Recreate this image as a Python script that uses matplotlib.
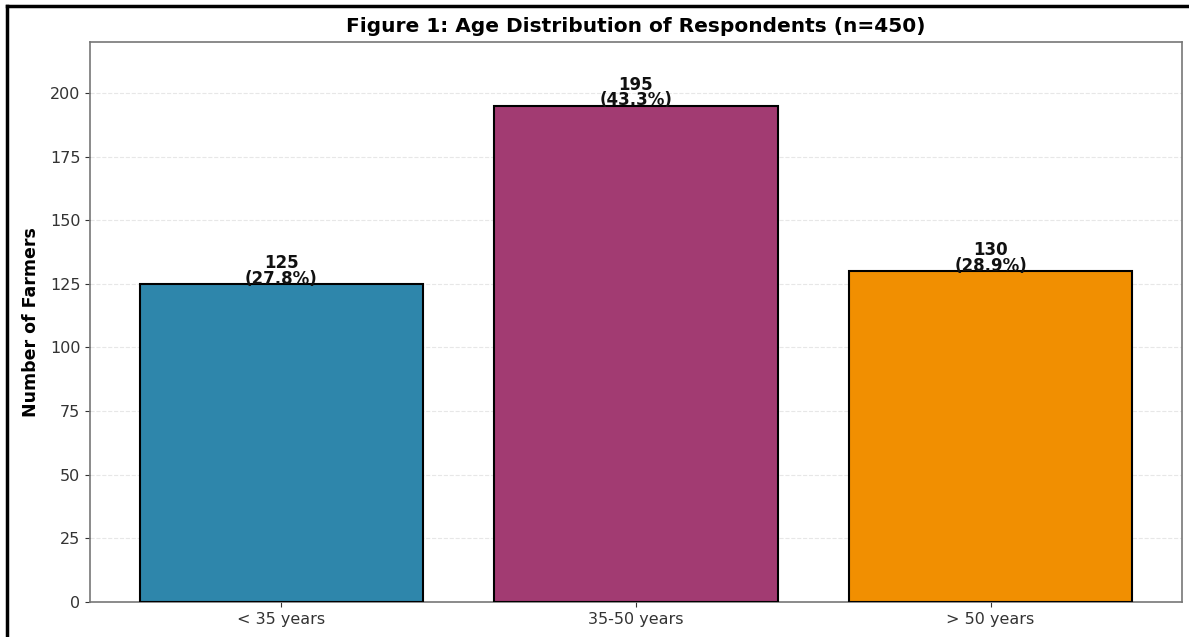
import matplotlib.pyplot as plt
from matplotlib.lines import Line2D

# Age groups and counts of respondents
age_groups = ["< 35 years", "35-50 years", "> 50 years"]
farmers = [125, 195, 130]
total = 450
bar_colors = ["#2E86AB", "#A23B72", "#F18F01"]

fig = plt.figure(figsize=(11.89, 6.37), dpi=100)
ax = fig.add_axes([90 / 1189, 35 / 637, 1092 / 1189, 560 / 637])

bars = ax.bar(age_groups, farmers, color=bar_colors, edgecolor="black",
              linewidth=1.5, width=0.8, zorder=3)

# Count and share above each bar
for bar, n in zip(bars, farmers):
    ax.text(bar.get_x() + bar.get_width() / 2, bar.get_height() - 1.5,
            f"{n}\n({n / total * 100:.1f}%)", ha="center", va="bottom",
            fontsize=12, fontweight="bold", linespacing=0.85,
            color="#111111", zorder=4)

ax.set_ylim(0, 220)
ax.set_yticks(range(0, 201, 25))
ax.set_ylabel("Number of Farmers", fontsize=12.5, fontweight="bold", labelpad=7)
ax.set_title("Figure 1: Age Distribution of Respondents (n=450)",
             fontsize=14.5, fontweight="bold", pad=7)
ax.grid(axis="y", linestyle="--", alpha=0.3, zorder=0)
ax.tick_params(labelsize=11.5, colors="#333333")
for s in ax.spines.values():
    s.set_color("#777777")
    s.set_linewidth(1.2)

# Frame around the figure
fig.add_artist(Line2D([7 / 1189, 7 / 1189], [0, 1 - 6 / 637], color="black",
                      linewidth=2.5, transform=fig.transFigure))
fig.add_artist(Line2D([7 / 1189, 1], [1 - 6 / 637, 1 - 6 / 637], color="black",
                      linewidth=2.5, transform=fig.transFigure))

fig.savefig("out.png", dpi=100)
